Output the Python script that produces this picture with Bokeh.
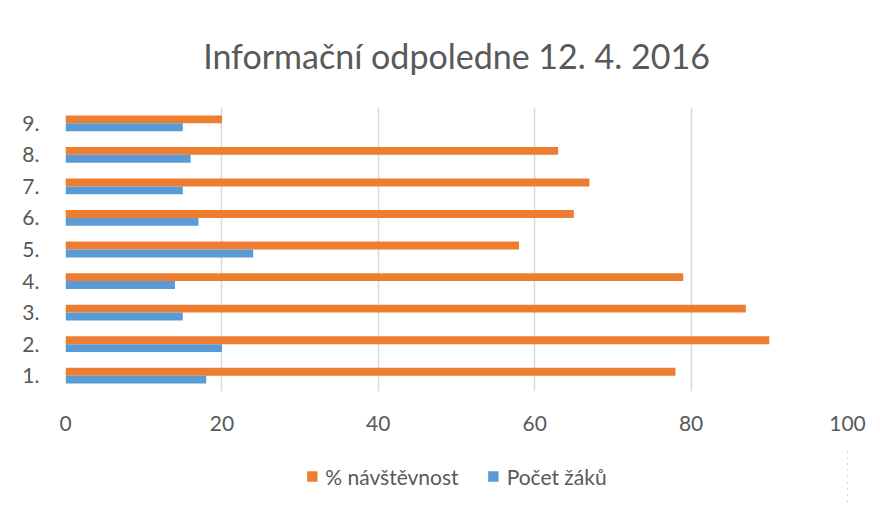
from bokeh.plotting import figure
from bokeh.layouts import column
from bokeh.models import FactorRange, Range1d, Legend, LegendItem, ColumnDataSource, FixedTicker, Title
from bokeh.transform import dodge
from bokeh.embed import file_html
from bokeh.resources import INLINE

categories = ["1.", "2.", "3.", "4.", "5.", "6.", "7.", "8.", "9."]
navstevnost = [78, 90, 87, 79, 58, 65, 67, 63, 20]
pocet_zaku = [18, 20, 15, 14, 24, 17, 15, 16, 15]
x_ticks = [0, 20, 40, 60, 80, 100]
series_labels = ["% návštěvnost", "Počet žáků"]

ORANGE = "#ED7D31"
BLUE = "#5B9BD5"
TEXT = "#595959"
GRID = "#d9d9d9"
FONT = "Lato"

src = ColumnDataSource(dict(cat=categories, nav=navstevnost, poc=pocet_zaku))

p = figure(width=871, height=448, y_range=FactorRange(*categories),
           x_range=Range1d(0, 100), output_backend="svg", toolbar_location=None,
           min_border_left=65, min_border_right=24, min_border_top=106, min_border_bottom=57)

t = Title(text="Informační odpoledne 12. 4. 2016", align="center",
          text_font=FONT, text_font_size="34px", text_font_style="normal",
          text_color=TEXT, standoff=64)
p.add_layout(t, "above")
p.title.visible = False

p.hbar(y=dodge("cat", 0.125, range=p.y_range), right="nav", height=0.25,
       source=src, color=ORANGE, line_color=None)
p.hbar(y=dodge("cat", -0.125, range=p.y_range), right="poc", height=0.25,
       source=src, color=BLUE, line_color=None)

p.outline_line_color = None
p.ygrid.grid_line_color = None
p.xgrid.grid_line_color = GRID
p.xgrid.grid_line_width = 1.5
p.xaxis.ticker = FixedTicker(ticks=x_ticks)

for ax in (p.xaxis, p.yaxis):
    ax.axis_line_color = None
    ax.major_tick_line_color = None
    ax.minor_tick_line_color = None
    ax.major_label_text_font = FONT
    ax.major_label_text_font_size = "21px"
    ax.major_label_text_color = TEXT
p.xaxis.major_label_standoff = 18
p.yaxis.major_label_standoff = 20
p.y_range.range_padding = 0

# legend strip below the chart (its bars lie outside its own x range, only swatches show)
p2 = figure(width=871, height=56, output_backend="svg", toolbar_location=None,
            x_axis_type=None, y_axis_type=None,
            y_range=FactorRange(*categories), x_range=Range1d(-20, -10),
            min_border_left=65, min_border_right=24, min_border_top=0, min_border_bottom=0)
p2.outline_line_color = None
p2.xgrid.grid_line_color = None
p2.ygrid.grid_line_color = None
l_nav = p2.hbar(y="cat", right="nav", left=0, height=0.25, source=src,
                color=ORANGE, line_color=None)
l_poc = p2.hbar(y="cat", right="poc", left=0, height=0.25, source=src,
                color=BLUE, line_color=None)

legend = Legend(items=[LegendItem(label=series_labels[0], renderers=[l_nav]),
                       LegendItem(label=series_labels[1], renderers=[l_poc])],
                orientation="horizontal", location="center",
                label_text_font=FONT, label_text_font_size="21px", label_text_color=TEXT,
                glyph_width=13, glyph_height=13, label_standoff=7, spacing=28,
                border_line_color=None, background_fill_alpha=0, margin=0, padding=0)
p2.add_layout(legend, "center")

layout = column(p, p2, spacing=0)
open("out.html", "w").write(file_html(layout, INLINE))
